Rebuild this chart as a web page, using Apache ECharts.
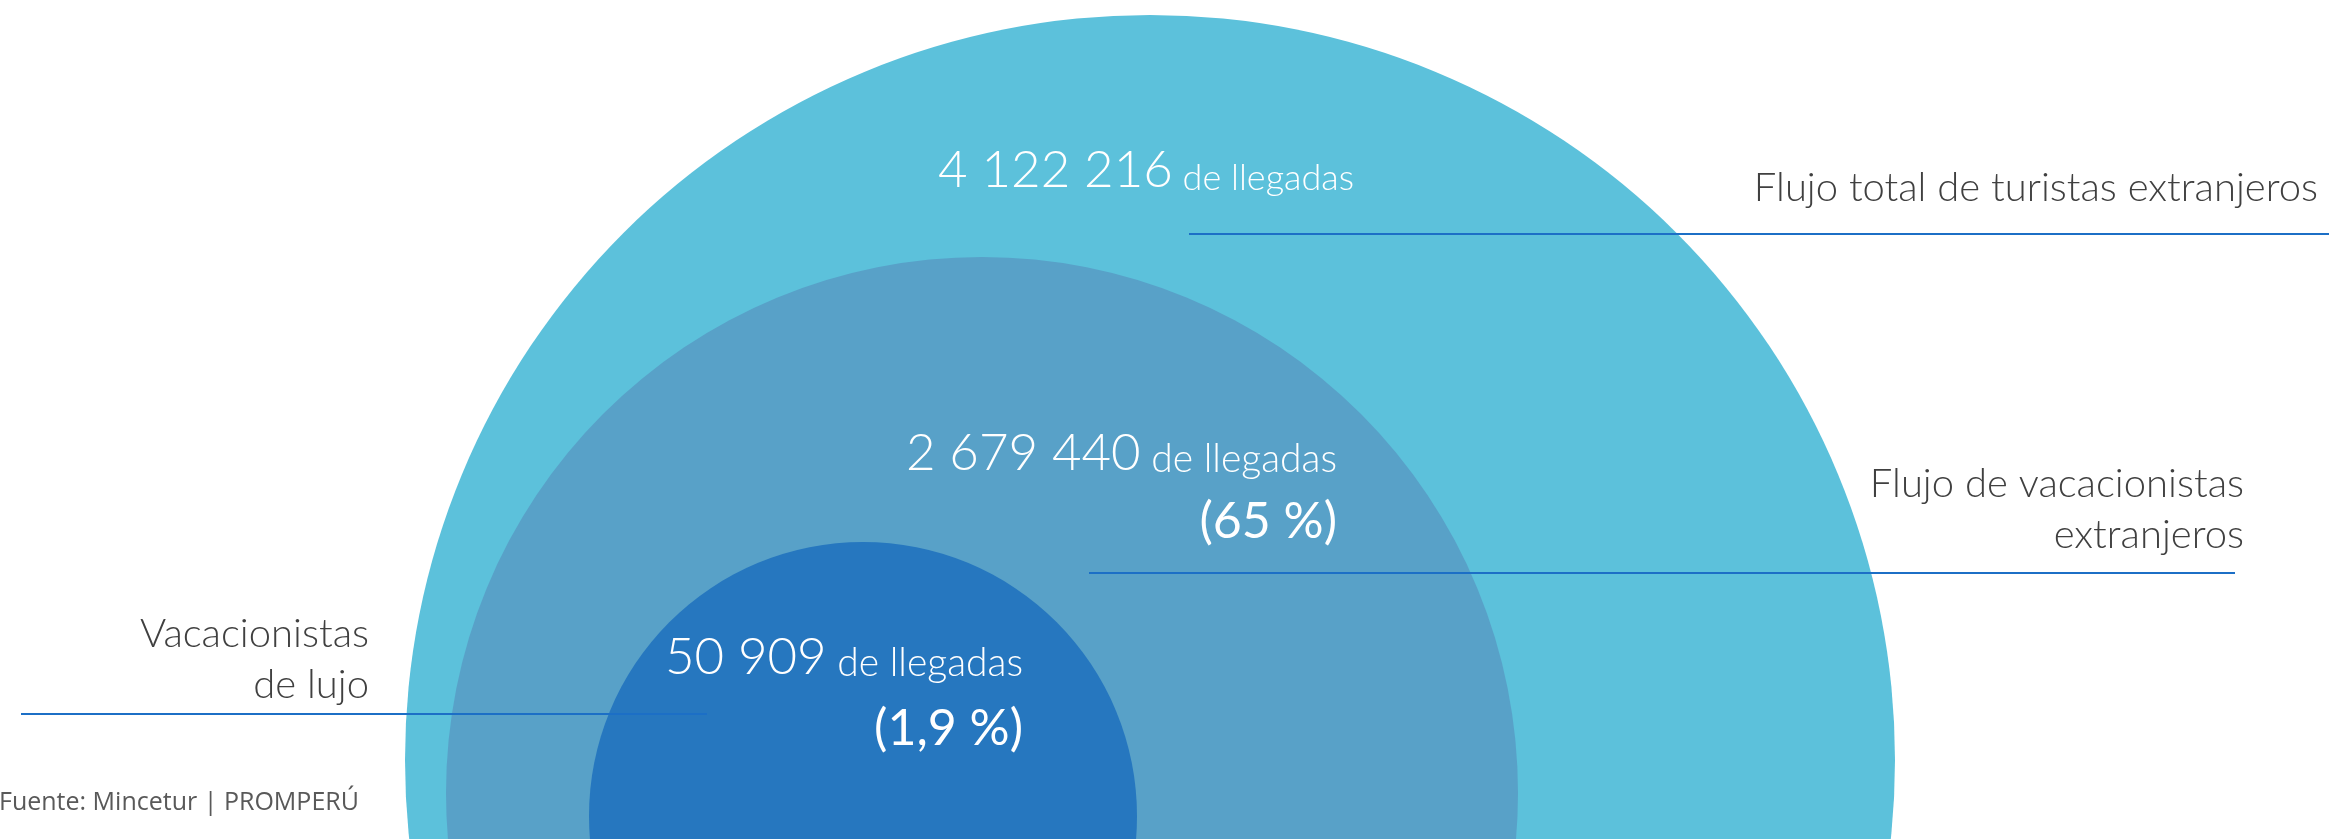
<!DOCTYPE html>
<html><head><meta charset="utf-8">
<script src="https://cdn.jsdelivr.net/npm/echarts@6/dist/echarts.min.js"></script>
<style>html,body{margin:0;padding:0;background:#fff;overflow:hidden}#c{width:2329px;height:839px}</style>
</head><body><div id="c"></div>
<script>
// ---- data ----
const categories = ['Flujo total de turistas extranjeros', 'Flujo de vacacionistas\nextranjeros', 'Vacacionistas\nde lujo'];
const arrivals = [4122216, 2679440, 50909];
const sharePct = [null, 65, 1.9];
const unitLabel = 'de llegadas';
const sourceNote = 'Fuente: Mincetur | PROMPERÚ';

// ---- layout / style ----
const circles = [
  { center: [1150, 760], r: 745, color: '#5cc1db' },
  { center: [982, 793], r: 536, color: '#58a1c8' },
  { center: [863, 816], r: 274, color: '#2677bf' }
];
const valueLabelPos = [
  { x: 1354, y: 196, unitSize: 36 },
  { x: 1337, y: 479, py: 547, unitSize: 39 },
  { x: 1023, y: 683, py: 754, unitSize: 39 }
];
const catLabelPos = [
  { x: 2318, y: 214 },
  { x: 2244, y: 561 },
  { x: 369, y: 711 }
];
const guideLines = [
  [1189, 234, 2329, 234],
  [1089, 573, 2235, 573],
  [21, 714, 707, 714]
];
const FONT = 'Lato';
const LINE_COLOR = '#1c6fc6';
const GRAY = '#404040';

function fmtNum(n) { return String(n).replace(/\B(?=(\d{3})+(?!\d))/g, ' '); }
function fmtPct(p) { return '(' + String(p).replace('.', ',') + ' %)'; }

const chart = echarts.init(document.getElementById('c'), null, { renderer: 'canvas' });

const series = arrivals.map((v, i) => ({
  type: 'pie',
  center: circles[i].center,
  radius: circles[i].r,
  silent: true,
  animation: false,
  z: 2 + i,
  label: { show: false },
  labelLine: { show: false },
  itemStyle: { color: circles[i].color, borderWidth: 0 },
  data: [{ value: v, name: categories[i] }]
}));

const graphic = [];
guideLines.forEach(l => graphic.push({
  type: 'line', z: 50, silent: true,
  shape: { x1: l[0], y1: l[1], x2: l[2], y2: l[3] },
  style: { stroke: LINE_COLOR, lineWidth: 2 }
}));
arrivals.forEach((v, i) => {
  const p = valueLabelPos[i];
  graphic.push({
    type: 'text', z: 60, silent: true, x: p.x, y: p.y,
    style: {
      text: '{n|' + fmtNum(v) + '}{u| ' + unitLabel + '}',
      align: 'right', verticalAlign: 'bottom',
      rich: {
        n: { fontFamily: FONT, fontWeight: 300, fontSize: 51, lineHeight: 51, fill: '#fff', verticalAlign: 'bottom' },
        u: { fontFamily: FONT, fontWeight: 300, fontSize: p.unitSize, lineHeight: p.unitSize, fill: '#fff', verticalAlign: 'bottom' }
      }
    }
  });
  if (sharePct[i] != null) {
    graphic.push({
      type: 'text', z: 60, silent: true, x: p.x, y: p.py,
      style: {
        text: fmtPct(sharePct[i]), align: 'right', verticalAlign: 'bottom',
        fontFamily: FONT, fontWeight: 400, fontSize: 50, lineHeight: 50, fill: '#fff'
      }
    });
  }
});
categories.forEach((c, i) => {
  const p = catLabelPos[i];
  graphic.push({
    type: 'text', z: 60, silent: true, x: p.x, y: p.y,
    style: {
      text: c, align: 'right', verticalAlign: 'bottom',
      fontFamily: FONT, fontWeight: 300, fontSize: 40, lineHeight: 51, fill: GRAY
    }
  });
});
graphic.push({
  type: 'text', z: 60, silent: true, x: -1, y: 815,
  style: { text: sourceNote, align: 'left', verticalAlign: 'bottom', fontFamily: 'Open Sans', fontSize: 25, lineHeight: 25, fill: '#595959' }
});

chart.setOption({
  animation: false,
  backgroundColor: '#ffffff',
  series: series,
  graphic: { elements: graphic }
});
</script>
</body></html>
